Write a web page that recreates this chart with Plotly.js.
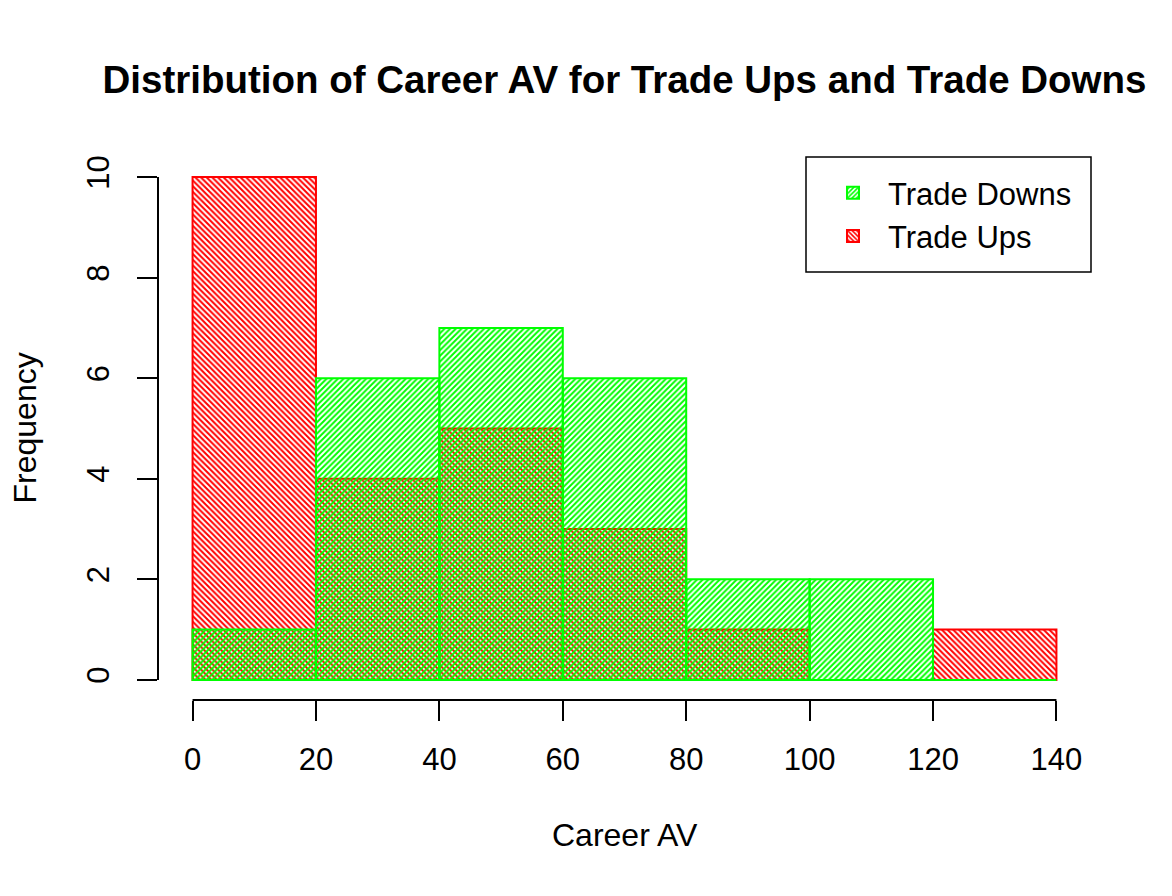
<!DOCTYPE html>
<html>
<head>
<meta charset="utf-8">
<script src="https://cdn.plot.ly/plotly-3.0.1.min.js"></script>
<style>
  html, body { margin: 0; padding: 0; background: #fff; }
  #gd { width: 1172px; height: 896px; }
</style>
</head>
<body>
<div id="gd"></div>
<script>
// histogram bins (Career AV) and counts
const binEdges = [0, 20, 40, 60, 80, 100, 120, 140];
const tradeDowns = [1, 6, 7, 6, 2, 2, 0];
const tradeUps = [10, 4, 5, 3, 1, 0, 1];
const xTicks = [0, 20, 40, 60, 80, 100, 120, 140];
const yTicks = [0, 2, 4, 6, 8, 10];

const mids = binEdges.slice(0, -1).map((e, i) => (e + binEdges[i + 1]) / 2);
const widths = binEdges.slice(0, -1).map((e, i) => binEdges[i + 1] - e);

const font = "Liberation Sans, Arial, Helvetica, sans-serif";

function hatchBar(name, y, col, shape) {
  return {
    type: "bar",
    name: name,
    x: mids,
    y: y,
    width: widths,
    marker: {
      color: "rgba(0,0,0,0)",
      line: { color: col, width: 2 },
      pattern: { shape: shape, fgcolor: col, bgcolor: "rgba(0,0,0,0)", size: 4, solidity: 0.5 }
    },
    hoverinfo: "x+y"
  };
}

const data = [
  hatchBar("Trade Ups", tradeUps, "#ff0000", "\\"),
  hatchBar("Trade Downs", tradeDowns, "#00ff00", "/")
];

// R style: 4% padding, axis line only spans first..last tick
const xr = [xTicks[0] - 0.04 * (xTicks[xTicks.length - 1] - xTicks[0]),
            xTicks[xTicks.length - 1] + 0.04 * (xTicks[xTicks.length - 1] - xTicks[0])];
const yr = [yTicks[0] - 0.04 * (yTicks[yTicks.length - 1] - yTicks[0]),
            yTicks[yTicks.length - 1] + 0.04 * (yTicks[yTicks.length - 1] - yTicks[0])];

const layout = {
  width: 1172,
  height: 896,
  paper_bgcolor: "#fff",
  plot_bgcolor: "#fff",
  margin: { l: 158, r: 81, t: 157, b: 196 },
  barmode: "overlay",
  bargap: 0,
  font: { family: font, size: 32, color: "#000" },
  title: {
    text: "<b>Distribution of Career AV for Trade Ups and Trade Downs</b>",
    font: { family: font, size: 38.5, color: "#000" },
    x: 0.5, xref: "paper", xanchor: "center",
    y: 1 - 80 / 896, yanchor: "middle"
  },
  xaxis: {
    range: xr,
    showgrid: false, zeroline: false, showline: false,
    tickmode: "array", tickvals: xTicks,
    ticks: "outside", ticklen: 20, tickwidth: 2, tickcolor: "#000",
    tickfont: { size: 31 },
    ticklabelstandoff: 12
  },
  yaxis: {
    range: yr,
    showgrid: false, zeroline: false, showline: false,
    tickmode: "array", tickvals: yTicks,
    ticks: "outside", ticklen: 20, tickwidth: 2, tickcolor: "#000",
    tickangle: -90,
    tickfont: { size: 31 },
    ticklabelstandoff: 16
  },
  showlegend: true,
  legend: {
    x: (818 - 158) / 933, xanchor: "left",
    y: (700 - 166) / 543, yanchor: "top",
    traceorder: "reversed",
    bgcolor: "rgba(0,0,0,0)",
    borderwidth: 0,
    font: { family: font, size: 31 },
    itemwidth: 60,
    tracegroupgap: 0
  },
  shapes: [
    { type: "line", xref: "x", yref: "paper", x0: xTicks[0], x1: xTicks[xTicks.length - 1], y0: 0, y1: 0,
      line: { color: "#000", width: 2 } },
    { type: "line", xref: "paper", yref: "y", x0: 0, x1: 0, y0: yTicks[0], y1: yTicks[yTicks.length - 1],
      line: { color: "#000", width: 2 } },
    { type: "rect", xref: "paper", yref: "paper", x0: (806 - 158) / 933, x1: 1, y0: (700 - 272) / 543, y1: 1,
      line: { color: "#000", width: 1.5 }, fillcolor: "rgba(0,0,0,0)" }
  ],
  annotations: [
    { text: "Career AV", xref: "paper", yref: "paper", x: 0.5, y: (700 - 835) / 543,
      xanchor: "center", yanchor: "middle", showarrow: false, font: { size: 32 } },
    { text: "Frequency", xref: "paper", yref: "paper", x: (24 - 158) / 933, y: 0.5,
      xanchor: "center", yanchor: "middle", textangle: -90, showarrow: false, font: { size: 32 } }
  ]
};

Plotly.newPlot("gd", data, layout, { displayModeBar: false, staticPlot: true });
</script>
</body>
</html>
